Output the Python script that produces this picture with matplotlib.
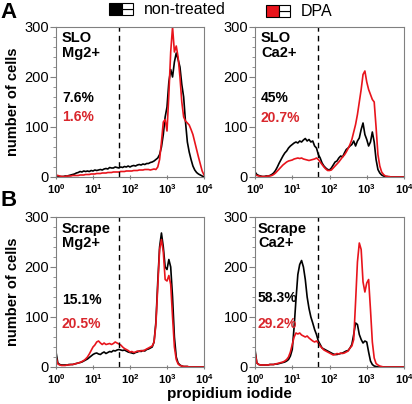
import numpy as np
import matplotlib
matplotlib.use("Agg")
import matplotlib.pyplot as plt
from matplotlib.patches import Rectangle
from matplotlib.ticker import MultipleLocator, FixedLocator

plt.rcParams['font.family'] = ['Liberation Sans', 'DejaVu Sans']
plt.rcParams['mathtext.fontset'] = 'custom'
plt.rcParams['mathtext.bf'] = 'Liberation Sans:bold'
plt.rcParams['mathtext.rm'] = 'Liberation Sans'

# log10 intensity grid, 0.00 .. 4.00 in steps of 0.05
LOG_X = np.linspace(0, 4, 81)

slo_mg_black = [2, 2, 1, 1, 1, 2, 2, 3, 4, 5,
                6, 8, 9, 11, 10, 12, 11, 12, 11, 13,
                12, 14, 13, 14, 15, 14, 16, 17, 16, 19,
                18, 18, 20, 19, 18, 20, 19, 21, 20, 22,
                20, 22, 23, 22, 24, 25, 24, 26, 25, 27,
                27, 29, 30, 32, 35, 38, 45, 60, 85, 120,
                140, 190, 215, 200, 230, 248, 235, 220, 185, 160,
                110, 70, 50, 35, 22, 14, 9, 6, 4, 2, 0]
slo_mg_red = [4, 3, 2, 1, 1, 1, 2, 2, 2, 3,
              3, 3, 3, 4, 4, 4, 5, 5, 5, 6,
              6, 6, 7, 7, 7, 8, 8, 8, 9, 9,
              9, 10, 10, 10, 10, 11, 11, 11, 12, 12,
              12, 12, 13, 13, 13, 14, 14, 14, 15, 15,
              15, 14, 15, 16, 15, 20, 35, 70, 110, 115,
              92, 165, 250, 300, 250, 262, 240, 200, 150, 120,
              112, 108, 104, 95, 85, 70, 55, 40, 26, 12, 4]

slo_ca_black = [10, 5, 3, 2, 1, 1, 2, 2, 3, 5,
                8, 13, 20, 28, 35, 42, 48, 52, 58, 62,
                65, 68, 70, 68, 72, 70, 74, 77, 72, 75,
                70, 72, 62, 58, 45, 38, 28, 22, 18, 15,
                14, 18, 24, 30, 32, 38, 42, 40, 48, 55,
                58, 62, 65, 72, 62, 72, 78, 95, 108, 85,
                75, 62, 70, 90, 70, 35, 15, 8, 4, 2,
                1, 1, 0, 0, 0, 0, 0, 0, 0, 0, 0]
slo_ca_red = [5, 3, 2, 1, 1, 1, 1, 2, 2, 3,
              5, 8, 12, 16, 20, 24, 27, 30, 32, 33,
              34, 36, 37, 38, 37, 38, 36, 35, 34, 33,
              34, 35, 36, 38, 35, 30, 25, 20, 16, 13,
              13, 14, 18, 22, 26, 30, 35, 40, 44, 50,
              57, 65, 75, 90, 105, 125, 150, 175, 205, 212,
              190, 175, 165, 155, 150, 100, 45, 22, 10, 5,
              2, 1, 1, 0, 0, 0, 0, 0, 0, 0, 0]

scr_mg_black = [30, 8, 5, 4, 4, 4, 4, 5, 5, 5,
                6, 7, 8, 9, 10, 12, 14, 16, 19, 22,
                25, 27, 28, 26, 25, 28, 30, 27, 29, 31,
                30, 33, 32, 34, 35, 34, 33, 34, 32, 30,
                29, 28, 27, 29, 30, 32, 31, 33, 32, 35,
                36, 38, 40, 50, 90, 170, 240, 268, 240, 200,
                195, 215, 200, 140, 60, 20, 8, 4, 2, 1,
                1, 1, 0, 0, 0, 0, 0, 0, 0, 0, 0]
scr_mg_red = [20, 6, 4, 3, 3, 3, 4, 4, 5, 5,
              6, 7, 8, 9, 11, 13, 16, 20, 26, 33,
              40, 44, 50, 52, 48, 45, 48, 45, 46, 47,
              45, 47, 50, 48, 46, 44, 40, 37, 35, 33,
              30, 31, 29, 30, 32, 31, 33, 32, 34, 36,
              38, 40, 42, 50, 85, 160, 235, 255, 230, 175,
              172, 183, 165, 100, 40, 15, 6, 3, 2, 1,
              1, 1, 0, 0, 0, 0, 0, 0, 0, 0, 0]

scr_ca_black = [35, 8, 5, 4, 4, 4, 4, 4, 5, 5,
                5, 6, 6, 7, 8, 9, 10, 12, 15, 22,
                35, 80, 135, 185, 205, 213, 200, 175, 140, 117,
                100, 88, 75, 65, 52, 45, 38, 36, 34, 32,
                30, 28, 26, 25, 25, 26, 27, 28, 30, 32,
                33, 38, 45, 65, 88, 85, 65, 55, 48, 52,
                50, 30, 12, 5, 2, 1, 0, 0, 0, 0,
                0, 0, 0, 0, 0, 0, 0, 0, 0, 0, 0]
scr_ca_red = [30, 8, 5, 4, 4, 4, 4, 4, 5, 5,
              5, 6, 7, 8, 9, 10, 12, 15, 20, 30,
              45, 60, 68, 66, 68, 64, 62, 60, 62, 58,
              55, 52, 50, 52, 48, 42, 38, 34, 32, 30,
              28, 26, 24, 25, 27, 26, 28, 27, 28, 30,
              32, 38, 42, 55, 130, 210, 248, 235, 170, 150,
              168, 175, 115, 50, 18, 7, 4, 2, 1, 0,
              0, 0, 0, 0, 0, 0, 0, 0, 0, 0, 0]

titles = ["SLO\nMg2+", "SLO\nCa2+", "Scrape\nMg2+", "Scrape\nCa2+"]
pct_black = ["7.6%", "45%", "15.1%", "58.3%"]
pct_red = ["1.6%", "20.7%", "20.5%", "29.2%"]
black_data = [slo_mg_black, slo_ca_black, scr_mg_black, scr_ca_black]
red_data = [slo_mg_red, slo_ca_red, scr_mg_red, scr_ca_red]
GATE = 50

RED = '#e8141c'
RED_TXT = '#d9262c'
GRAY = '#808080'

W, H = 412, 404
fig = plt.figure(figsize=(W / 100, H / 100), dpi=100)

# axes boxes in pixels: left, top, right, bottom
boxes = [(56, 27, 204, 177), (255, 27, 404, 177),
         (56, 217, 204, 367), (255, 217, 404, 367)]
pct_pos = [(0.53, 0.40), (0.53, 0.39), (0.45, 0.29), (0.46, 0.29)]
txt_x = [0.04, 0.04, 0.04, 0.02]

x = 10 ** LOG_X
for i, (l, t, r, b) in enumerate(boxes):
    ax = fig.add_axes([l / W, 1 - b / H, (r - l) / W, (b - t) / H])
    ax.plot(x, black_data[i], color='black', lw=1.2)
    ax.plot(x, red_data[i], color=RED, lw=1.2)
    ax.axvline(GATE, color='black', lw=1.0, ls=(0, (4, 3)))
    ax.set_xscale('log')
    ax.set_xlim(1, 1e4)
    ax.set_ylim(0, 300)
    ax.yaxis.set_major_locator(FixedLocator([0, 100, 200, 300]))
    ax.yaxis.set_minor_locator(MultipleLocator(20))
    ax.set_xticks([1, 10, 100, 1000, 10000])
    ax.set_xticklabels([r'$\mathbf{10^{%d}}$' % k for k in range(5)], fontsize=8)
    ax.tick_params(axis='y', which='major', labelsize=10.5, length=4, width=0.8,
                   color=GRAY, pad=1)
    ax.tick_params(axis='y', which='minor', length=2, width=0.6, color=GRAY)
    ax.tick_params(axis='x', which='major', length=3, width=0.8, color=GRAY,
                   direction='inout', pad=2)
    ax.tick_params(axis='x', which='minor', length=2, width=0.6, color=GRAY,
                   direction='in')
    for s in ax.spines.values():
        s.set_color(GRAY)
        s.set_linewidth(0.8)
    ax.text(txt_x[i], 0.97, titles[i], transform=ax.transAxes, fontsize=10.5,
            fontweight='bold', va='top', ha='left', linespacing=1.05)
    ax.text(txt_x[i], pct_pos[i][0], pct_black[i], transform=ax.transAxes,
            fontsize=10, fontweight='bold', va='center', ha='left')
    ax.text(txt_x[i], pct_pos[i][1], pct_red[i], transform=ax.transAxes,
            fontsize=10, fontweight='bold', va='center', ha='left', color=RED_TXT)
    if i % 2 == 0:
        ax.set_ylabel("number of cells", fontsize=10.5, fontweight='bold', labelpad=3)

fig.text(0.0, 1 - 12 / H, "A", fontsize=16, fontweight='bold', va='center', ha='left')
fig.text(0.0, 1 - 201 / H, "B", fontsize=16, fontweight='bold', va='center', ha='left')
fig.text(229 / W, 1 - 394 / H, "propidium iodide", fontsize=11, fontweight='bold',
         ha='center', va='center')


def legend_icon(x0, y0, fill):
    w, h = 24 / W, 12 / H
    fig.add_artist(Rectangle((x0, y0), w * 0.55, h, facecolor=fill, edgecolor='black',
                             lw=0.8, transform=fig.transFigure))
    fig.add_artist(Rectangle((x0 + w * 0.55, y0), w * 0.45, h / 2, facecolor='white',
                             edgecolor='black', lw=0.8, transform=fig.transFigure))
    fig.add_artist(Rectangle((x0 + w * 0.55, y0 + h / 2), w * 0.45, h / 2,
                             facecolor='white', edgecolor='black', lw=0.8,
                             transform=fig.transFigure))


legend_icon(109 / W, 1 - 15 / H, 'black')
fig.text(144 / W, 1 - 9 / H, "non-treated", fontsize=11.5, va='center', ha='left')
legend_icon(266 / W, 1 - 17 / H, RED)
fig.text(301 / W, 1 - 11 / H, "DPA", fontsize=11.5, va='center', ha='left')

fig.savefig("out.png", dpi=100)
